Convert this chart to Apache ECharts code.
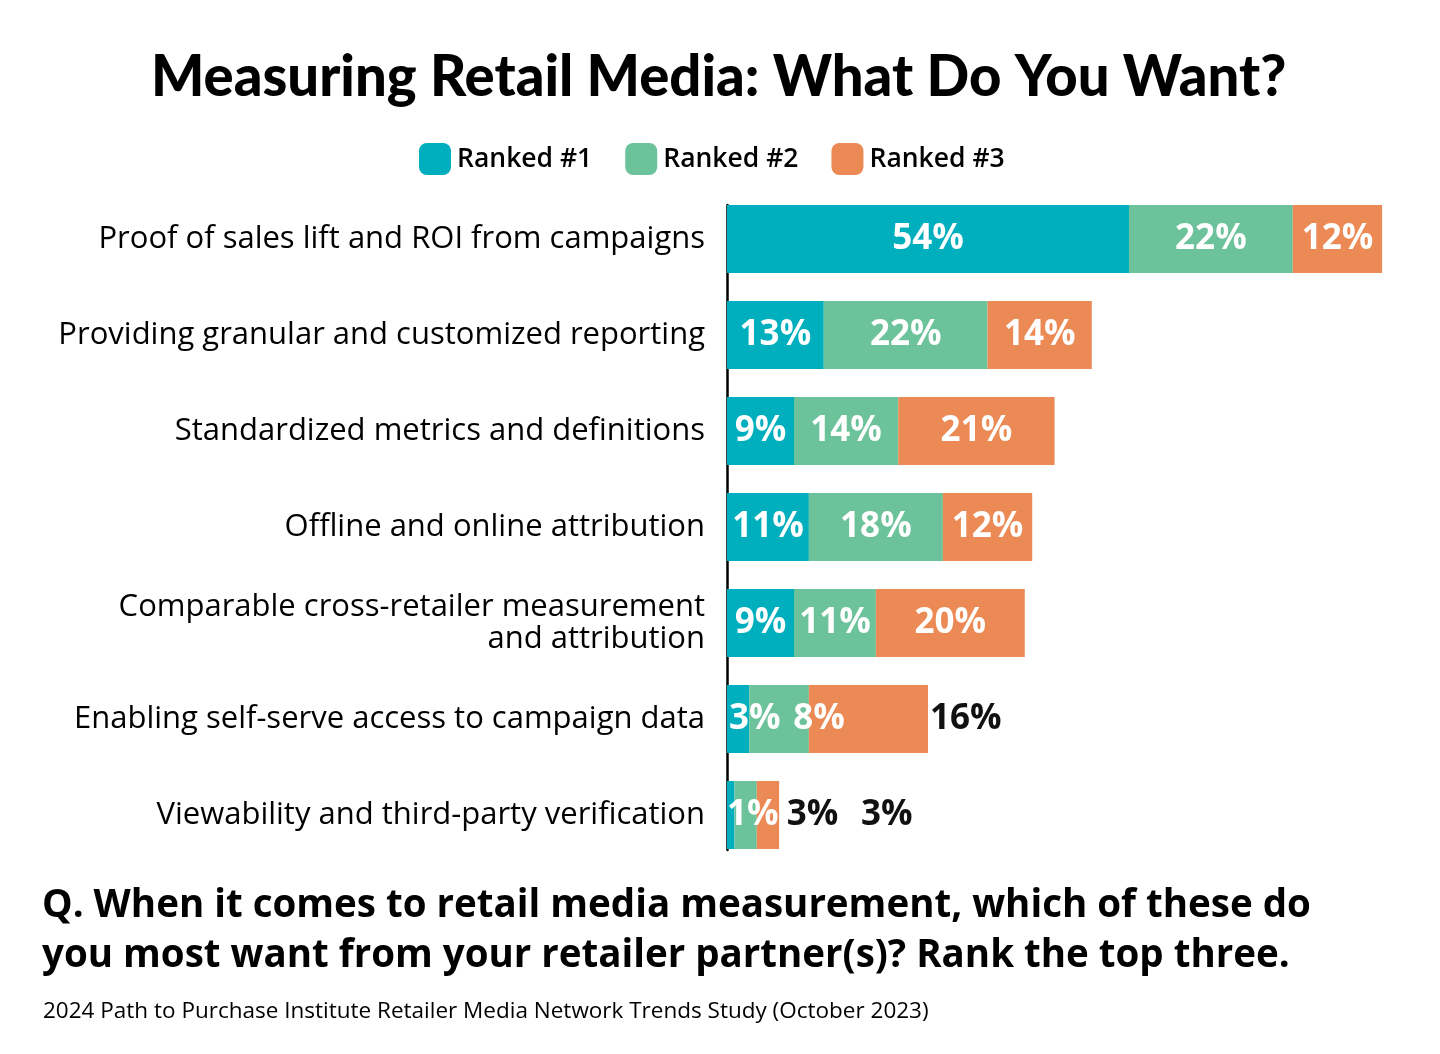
<!DOCTYPE html>
<html><head><meta charset="utf-8">
<script src="https://cdn.jsdelivr.net/npm/echarts@6/dist/echarts.min.js"></script>
<style>html,body{margin:0;padding:0;background:#fff}#c{width:1440px;height:1054px}</style>
</head><body><div id="c"></div>
<script>
const categories = [
  'Proof of sales lift and ROI from campaigns',
  'Providing granular and customized reporting',
  'Standardized metrics and definitions',
  'Offline and online attribution',
  'Comparable cross-retailer measurement\nand attribution',
  'Enabling self-serve access to campaign data',
  'Viewability and third-party verification'
];
const seriesNames = ['Ranked #1', 'Ranked #2', 'Ranked #3'];
const ranked1 = [54, 13, 9, 11, 9, 3, 1];
const ranked2 = [22, 22, 14, 18, 11, 8, 3];
const ranked3 = [12, 14, 21, 12, 20, 16, 3];
const colors = ['#00AFBD', '#6CC29A', '#EC8A55'];

const FONT = 'Open Sans';
const TFONT = 'Lato';
// per-item label tweaks (layout only)
const labelTweaks = {
  '0-1': {offset: [-18, 0]},
  '0-5': {position: 'insideLeft', distance: 2},
  '1-5': {position: 'insideLeft', distance: 44},
  '2-5': {position: 'right', distance: 2, color: '#111'},
  '0-6': {position: 'insideLeft', distance: 0},
  '1-6': {position: 'right', distance: 30, color: '#111'},
  '2-6': {position: 'right', distance: 82, color: '#111'}
};
const seriesValues = [ranked1, ranked2, ranked3];
const series = seriesValues.map((vals, si) => ({
  name: seriesNames[si],
  type: 'bar',
  stack: 'total',
  barWidth: 68,
  xAxisIndex: 0, yAxisIndex: 0,
  itemStyle: {color: colors[si]},
  label: {
    show: true, position: 'inside', formatter: '{c}%',
    color: '#fff', fontFamily: FONT, fontWeight: 'bold', fontSize: 35
  },
  labelLayout: {hideOverlap: false},
  data: vals.map((v, ci) => {
    const t = labelTweaks[si + '-' + ci];
    return t ? {value: v, label: t} : v;
  })
}));

const chart = echarts.init(document.getElementById('c'), null, {renderer: 'canvas'});
chart.setOption({
  animation: false,
  color: colors,
  title: [
    {text: 'Measuring Retail Media: What Do You Want?', left: 146, top: 45,
     textStyle: {fontFamily: TFONT, fontWeight: 900, fontSize: 56.2, color: '#000'}},
    {text: 'Q. When it comes to retail media measurement, which of these do\nyou most want from your retailer partner(s)? Rank the top three.',
     left: 37, top: 876,
     textStyle: {fontFamily: FONT, fontWeight: 'bold', fontSize: 38.5, lineHeight: 50, color: '#000'}},
    {text: '2024 Path to Purchase Institute Retailer Media Network Trends Study (October 2023)',
     left: 38, top: 995,
     textStyle: {fontFamily: FONT, fontWeight: 'normal', fontSize: 22.5, color: '#000'}}
  ],
  legend: {
    top: 138, left: 414, itemWidth: 32, itemHeight: 32, itemGap: 33,
    icon: 'roundRect',
    textStyle: {fontFamily: FONT, fontSize: 26.5, fontWeight: 600, color: '#000', padding: [0,0,0,1]},
    data: seriesNames
  },
  grid: [
    {left: 727, right: 43, top: 191, bottom: 191, containLabel: false},
    {left: 727, width: 10, top: 205, bottom: 204}
  ],
  xAxis: [
    {type: 'value', min: 0, max: 90, show: false, gridIndex: 0},
    {type: 'value', show: false, gridIndex: 1}
  ],
  yAxis: [
    {type: 'category', data: categories, inverse: true, gridIndex: 0,
     axisLine: {show: false}, axisTick: {show: false},
     axisLabel: {fontFamily: FONT, fontSize: 31, color: '#000', margin: 22, align: 'right', lineHeight: 32}},
    {type: 'value', gridIndex: 1, axisLine: {show: true, lineStyle: {color: '#000', width: 2.5}},
     axisTick: {show: false}, axisLabel: {show: false}, splitLine: {show: false}}
  ],
  series: series
});
</script></body></html>
